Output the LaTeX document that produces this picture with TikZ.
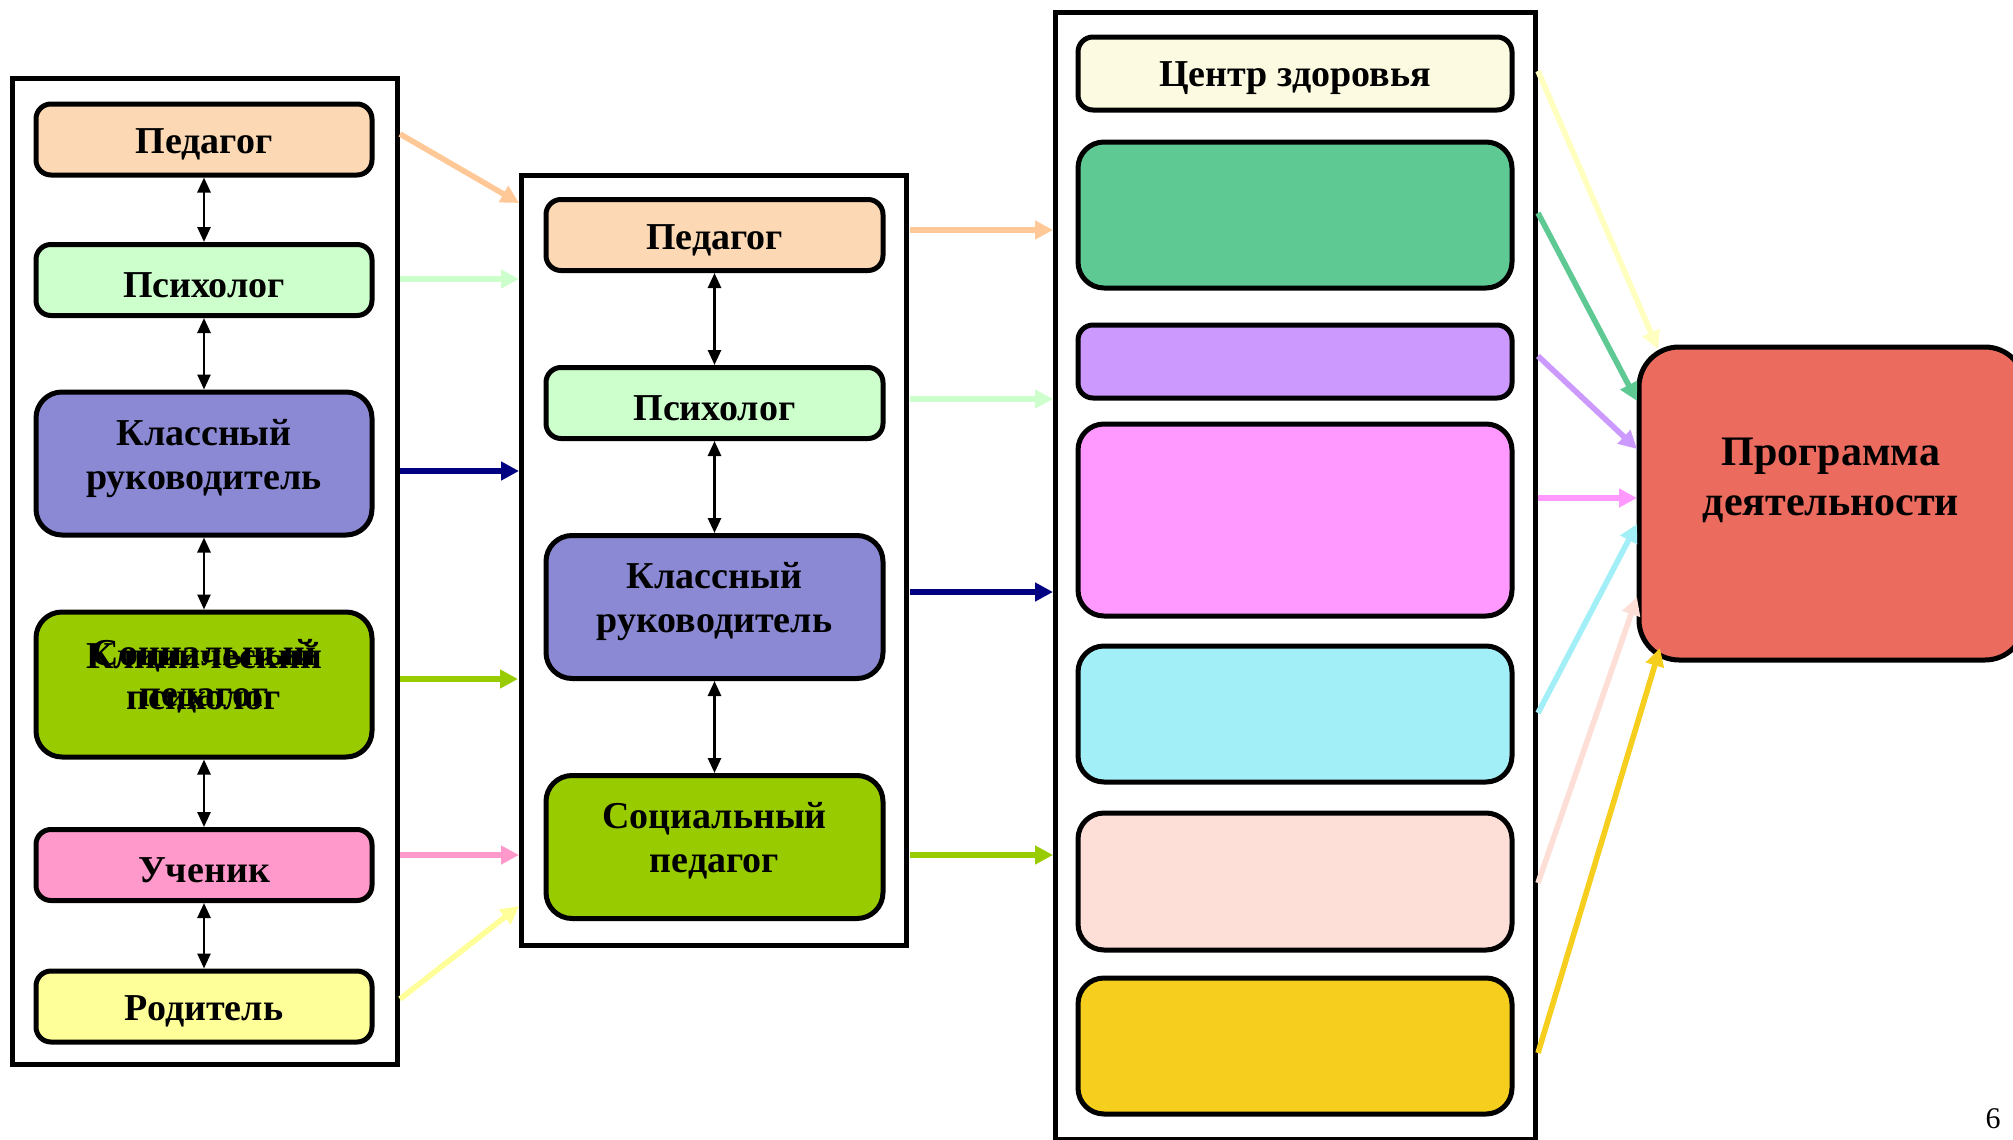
\documentclass[tikz,border=0pt]{standalone}
\usepackage{fontspec}
\setmainfont{Liberation Serif}
\usetikzlibrary{arrows.meta}
\definecolor{cPed}{HTML}{FCD9B4}
\definecolor{cPedA}{HTML}{FFC896}
\definecolor{cPsy}{HTML}{CCFFCC}
\definecolor{cKl}{HTML}{8B89D3}
\definecolor{cSoc}{HTML}{99CC00}
\definecolor{cUch}{HTML}{FF99CC}
\definecolor{cRod}{HTML}{FFFF99}
\definecolor{cNavy}{HTML}{000080}
\definecolor{cCen}{HTML}{FCFAE0}
\definecolor{cCenA}{HTML}{FFFFC0}
\definecolor{cGrn}{HTML}{5FC994}
\definecolor{cPur}{HTML}{CC99FF}
\definecolor{cPnk}{HTML}{FF99FF}
\definecolor{cCyn}{HTML}{A3EFF7}
\definecolor{cPch}{HTML}{FDDFD8}
\definecolor{cGld}{HTML}{F6CF1E}
\definecolor{cPrg}{HTML}{EB6B5F}
\newcommand{\oneln}[1]{\raisebox{-2.5pt}[\height][\depth]{#1}}
\newcommand{\twoln}[2]{\raisebox{2.5pt}[\height][\depth]{\begin{tabular}{@{}c@{}}#1\\#2\end{tabular}}}
\begin{document}
\begin{tikzpicture}[x=0.5pt,y=-0.5pt,
  frame/.style={draw, line width=2.5pt, inner sep=0pt},
  rbox/.style={draw, line width=2.5pt, rounded corners=7.5pt, inner sep=2pt, align=center,
    font=\bfseries\fontsize{19}{22}\selectfont},
  tallbox/.style={rbox, rounded corners=13pt},
  lw/.style={minimum width=168pt},
  mw/.style={minimum width=168.5pt},
  rw/.style={minimum width=217pt},
  dbl/.style={line width=1.3pt, {Triangle[length=7.5pt,width=6.5pt]}-{Triangle[length=7.5pt,width=6.5pt]}},
  carrow/.style={line width=2.8pt, -{Triangle[length=9pt,width=9pt]}}
]
\useasboundingbox[fill=white] (0,0) rectangle (2013,1140);

% frames
\node[frame, minimum width=192.5pt, minimum height=493pt] (lframe) at (204.5,571) {};
\node[frame, minimum width=192.5pt, minimum height=385pt] (mframe) at (713.5,560) {};
\node[frame, minimum width=240pt, minimum height=563.5pt] (rframe) at (1295,576) {};

% left column
\node[rbox, lw, fill=cPed, minimum height=35.5pt] (lped) at (204,139.5) {\oneln{Педагог}};
\node[rbox, lw, fill=cPsy, minimum height=35.5pt] (lpsy) at (204,280) {\oneln{Психолог}};
\node[tallbox, lw, fill=cKl, minimum height=71.5pt] (lkl) at (204,463.5) {\twoln{Классный}{руководитель}};
\node[tallbox, lw, fill=cSoc, minimum height=72.5pt] (lsoc) at (204,684.5) {};
\node[align=center, font=\bfseries\fontsize{19}{20.5}\selectfont] (lsoctxt) at (204,676) {Социальный\\педагог};
\node[align=center, font=\bfseries\fontsize{19}{20.5}\selectfont] (lklintxt) at (204,676) {Клинический\\психолог};
\node[rbox, lw, fill=cUch, minimum height=35.5pt] (luch) at (204,865) {\oneln{Ученик}};
\node[rbox, lw, fill=cRod, minimum height=35.5pt] (lrod) at (204,1006.5) {\oneln{Родитель}};

\draw[dbl] (lped.south) -- (lpsy.north);
\draw[dbl] (lpsy.south) -- (lkl.north);
\draw[dbl] (lkl.south) -- (lsoc.north);
\draw[dbl] (lsoc.south) -- (luch.north);
\draw[dbl] (luch.south) -- (lrod.north);

% middle column
\node[rbox, mw, fill=cPed, minimum height=35.5pt] (mped) at (714.5,235) {\oneln{Педагог}};
\node[rbox, mw, fill=cPsy, minimum height=35.5pt] (mpsy) at (714.5,403) {\oneln{Психолог}};
\node[tallbox, mw, fill=cKl, minimum height=71.5pt] (mkl) at (714.5,607) {\twoln{Классный}{руководитель}};
\node[tallbox, mw, fill=cSoc, minimum height=71.5pt] (msoc) at (714.5,847) {\twoln{Социальный}{педагог}};

\draw[dbl] (mped.south) -- (mpsy.north);
\draw[dbl] (mpsy.south) -- (mkl.north);
\draw[dbl] (mkl.south) -- (msoc.north);

% right column
\node[rbox, rw, fill=cCen, minimum height=36.5pt] (rcen) at (1295,73.5) {\oneln{Центр здоровья}};
\node[tallbox, rw, fill=cGrn, minimum height=73pt] (rgrn) at (1295,215) {};
\node[rbox, rw, fill=cPur, minimum height=36.5pt] (rpur) at (1295,361.5) {};
\node[tallbox, rw, fill=cPnk, minimum height=96pt] (rpnk) at (1295,520) {};
\node[tallbox, rw, fill=cCyn, minimum height=68pt] (rcyn) at (1295,714) {};
\node[tallbox, rw, fill=cPch, minimum height=68.5pt] (rpch) at (1295,881.5) {};
\node[tallbox, rw, fill=cGld, minimum height=68pt] (rgld) at (1295,1046) {};

% programme
\node[draw, line width=2.5pt, fill=cPrg, rounded corners=20pt, minimum width=193pt, minimum height=156.5pt] (prog) at (1832,503.5) {};
\node[align=center, font=\bfseries\fontsize{21}{25}\selectfont] (progtxt) at (1831,480) {Программа\\деятельности};

% page number
\node[font=\fontsize{15}{17}\selectfont, inner sep=0pt] (pnum) at (1993,1119) {6};

% connector end points
\coordinate (a1s) at (400,134);  \coordinate (a1e) at (519,203);
\coordinate (a2s) at (400,279);  \coordinate (a2e) at (519,279);
\coordinate (a3s) at (400,471);  \coordinate (a3e) at (519,471);
\coordinate (a4s) at (400,679);  \coordinate (a4e) at (518,679);
\coordinate (a5s) at (400,855);  \coordinate (a5e) at (519,855);
\coordinate (a6s) at (400,999);  \coordinate (a6e) at (519,906);

\coordinate (b1s) at (910,230);  \coordinate (b1e) at (1053,230);
\coordinate (b2s) at (910,399);  \coordinate (b2e) at (1053,399);
\coordinate (b3s) at (910,592);  \coordinate (b3e) at (1053,592);
\coordinate (b4s) at (910,855);  \coordinate (b4e) at (1053,855);

\coordinate (c1s) at (1538,71);   \coordinate (c1e) at (1658,349);
\coordinate (c2s) at (1538,213);  \coordinate (c2e) at (1637,401);
\coordinate (c3s) at (1538,356);  \coordinate (c3e) at (1637,449);
\coordinate (c4s) at (1538,498);  \coordinate (c4e) at (1637,498);
\coordinate (c5s) at (1538,713);  \coordinate (c5e) at (1637,524);
\coordinate (c6s) at (1538,883);  \coordinate (c6e) at (1637,597);
\coordinate (c7s) at (1538,1053); \coordinate (c7e) at (1660,648);

\draw[carrow, cPedA] (a1s) -- (a1e);
\draw[carrow, cPsy] (a2s) -- (a2e);
\draw[carrow, cNavy] (a3s) -- (a3e);
\draw[carrow, cSoc] (a4s) -- (a4e);
\draw[carrow, cUch] (a5s) -- (a5e);
\draw[carrow, cRod] (a6s) -- (a6e);

\draw[carrow, cPedA] (b1s) -- (b1e);
\draw[carrow, cPsy] (b2s) -- (b2e);
\draw[carrow, cNavy] (b3s) -- (b3e);
\draw[carrow, cSoc] (b4s) -- (b4e);

\draw[carrow, cCenA] (c1s) -- (c1e);
\draw[carrow, cGrn] (c2s) -- (c2e);
\draw[carrow, cPur] (c3s) -- (c3e);
\draw[carrow, cPnk] (c4s) -- (c4e);
\draw[carrow, cCyn] (c5s) -- (c5e);
\draw[carrow, cPch] (c6s) -- (c6e);
\draw[carrow, cGld] (c7s) -- (c7e);
\end{tikzpicture}
\end{document}
